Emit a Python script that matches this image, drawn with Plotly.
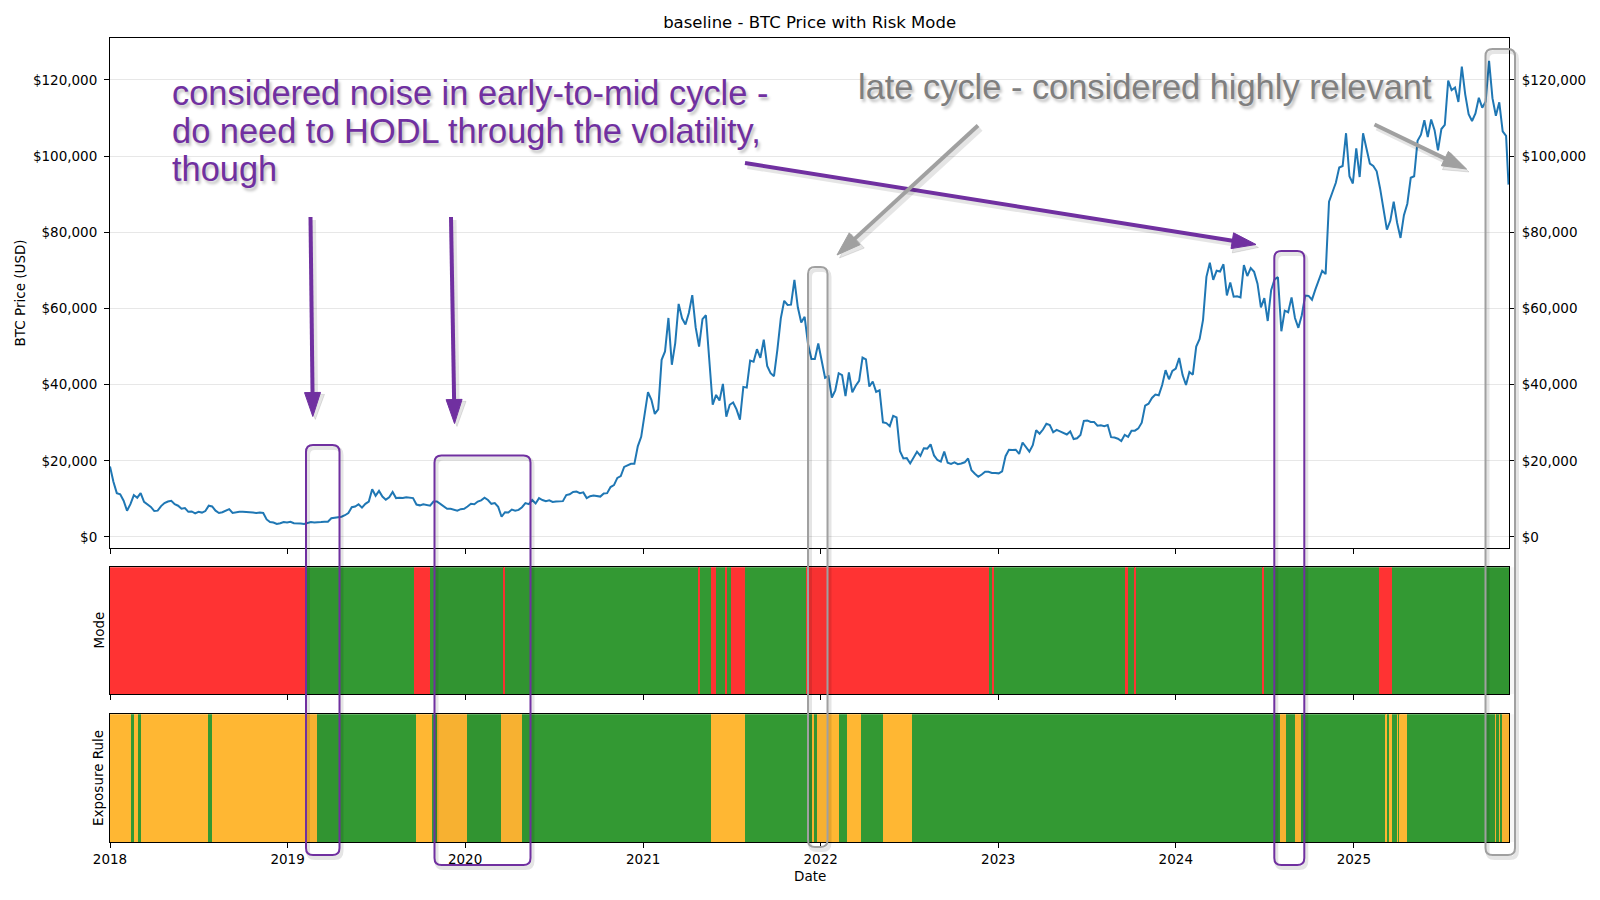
import math
import pandas as pd
import plotly.graph_objects as go

# weekly BTC closes in $k (Mondays from 2018-01-01)
btc_2018 = [18.5, 14.5, 11.5, 11.2, 9.5, 6.9, 8.6, 11.0, 10.3, 11.5, 9.2, 8.6, 7.9, 6.8, 6.9, 8.1, 8.9, 9.3,
            9.5, 8.6, 8.2, 7.4, 7.6, 6.6, 6.7, 6.2, 6.6, 6.4, 6.8, 8.2, 8.0, 6.9, 6.3, 6.5, 7.0, 7.3, 6.3, 6.5,
            6.6, 6.6, 6.6, 6.5, 6.4, 6.3, 6.4, 6.3, 4.6, 3.9, 3.8, 3.4, 3.6, 3.9, 3.8]
btc_2019 = [4.0, 3.6, 3.6, 3.5, 3.4, 3.6, 3.9, 3.8, 3.8, 3.9, 4.0, 4.0, 4.9, 5.1, 5.2, 5.3, 5.7, 6.3, 7.8,
            8.0, 8.6, 7.7, 8.7, 9.3, 12.5, 10.8, 12.1, 10.6, 9.8, 10.4, 11.8, 10.2, 10.3, 10.2, 10.4, 10.3,
            10.2, 8.5, 8.3, 8.6, 8.3, 8.2, 9.3, 9.3, 8.7, 8.1, 7.4, 7.4, 7.2, 6.9, 7.3, 7.4]
btc_2020 = [8.0, 8.7, 8.6, 9.3, 9.6, 10.3, 9.7, 8.7, 8.9, 7.9, 5.3, 6.5, 6.4, 7.2, 6.9, 7.1, 7.8, 8.9, 8.6,
            9.7, 8.8, 10.2, 9.7, 9.4, 9.6, 9.2, 9.3, 9.3, 9.4, 11.0, 11.2, 11.8, 11.9, 11.5, 11.7, 10.2, 10.7,
            10.9, 10.7, 10.6, 11.4, 11.5, 13.1, 13.6, 15.5, 16.0, 18.4, 18.8, 19.2, 19.2, 23.8, 26.3]
btc_2021 = [32.0, 38.0, 36.0, 32.3, 33.5, 46.5, 48.7, 57.5, 45.2, 50.9, 61.2, 57.4, 55.8, 58.8, 63.5, 55.0,
            50.0, 57.2, 58.2, 46.4, 34.7, 37.3, 35.8, 40.2, 31.6, 34.7, 35.3, 33.5, 30.8, 39.4, 39.2, 46.3,
            46.0, 49.3, 47.0, 51.8, 44.9, 43.0, 42.2, 49.2, 57.4, 62.0, 60.9, 61.0, 67.5, 60.3, 56.3, 57.8,
            50.6, 46.7, 46.7, 50.8]
btc_2022 = [46.4, 41.8, 42.2, 36.6, 38.5, 43.0, 42.5, 37.0, 43.2, 38.0, 39.7, 41.0, 47.1, 46.6, 39.5, 40.8,
            38.1, 38.5, 30.1, 29.9, 29.1, 31.8, 31.4, 22.5, 20.6, 20.7, 19.3, 20.8, 22.4, 21.3, 23.3, 23.2,
            24.3, 21.4, 20.2, 19.8, 22.4, 19.5, 19.2, 19.6, 19.1, 19.3, 19.6, 20.6, 17.5, 16.6, 15.8, 16.4,
            17.1, 17.1, 16.8, 16.8]
btc_2023 = [16.7, 17.2, 21.2, 22.9, 22.8, 22.9, 21.8, 24.8, 23.5, 22.4, 24.1, 28.0, 27.1, 28.2, 29.7, 29.4,
            27.5, 28.1, 27.7, 27.2, 26.9, 27.7, 25.7, 25.9, 26.8, 30.5, 30.6, 30.2, 30.2, 29.2, 29.3, 29.1,
            29.4, 26.2, 26.1, 25.8, 25.2, 26.8, 26.3, 27.9, 27.9, 28.5, 30.0, 34.5, 35.0, 36.5, 37.4, 37.2,
            39.9, 43.8, 41.4, 43.6]
btc_2024 = [44.2, 47.0, 42.5, 39.9, 43.3, 42.6, 50.0, 52.0, 57.0, 68.3, 72.0, 67.5, 69.9, 69.7, 71.6, 63.4,
            66.8, 63.1, 63.2, 62.9, 71.4, 68.5, 70.6, 69.6, 66.5, 60.3, 62.7, 56.7, 64.8, 67.6, 68.2, 54.0,
            59.4, 59.0, 62.9, 57.5, 54.9, 58.2, 63.4, 63.3, 62.3, 65.0, 67.3, 69.9, 69.0, 88.0, 90.5, 93.0,
            97.0, 97.4, 106.0, 94.7, 92.8]
btc_2025 = [102.0, 94.5, 106.0, 102.0, 98.0, 97.4, 96.0, 91.5, 86.0, 80.7, 83.0, 88.0, 82.5, 78.5, 84.5,
            87.5, 94.3, 94.7, 104.0, 105.6, 109.4, 105.0, 109.6, 106.8, 101.5, 107.1, 108.2, 119.8, 117.3,
            118.0, 114.2, 123.5, 116.2, 111.0, 109.2, 111.2, 115.3, 112.7, 114.3, 125.0, 115.2, 110.6, 114.1,
            106.5, 105.3]
last_date = "2025-11-15"
last_price = 92.5

# regime bands: change dates and the state of each span
mode_edges = ["2018-01-01", "2019-02-05", "2019-09-18", "2019-10-20", "2020-03-20", "2020-03-22",
              "2021-04-25", "2021-04-27", "2021-05-20", "2021-05-31", "2021-06-19", "2021-06-22",
              "2021-07-01", "2021-07-30", "2021-12-01", "2022-12-13", "2022-12-20", "2022-12-24",
              "2023-09-18", "2023-09-25", "2023-10-09", "2023-10-12", "2024-06-28", "2024-07-01",
              "2025-02-21", "2025-03-21", "2025-11-16"]
mode_states = ["R", "G", "R", "G", "R", "G", "R", "G", "R", "G", "R", "G", "R", "G", "R", "G", "R",
               "G", "R", "G", "R", "G", "R", "G", "R", "G"]

expo_edges = ["2018-01-01", "2018-02-14", "2018-02-20", "2018-02-28", "2018-03-05", "2018-07-22",
              "2018-07-30", "2019-03-03", "2019-09-23", "2019-10-25", "2019-11-05", "2020-01-04",
              "2020-03-14", "2020-04-27", "2021-05-20", "2021-07-30", "2021-12-15", "2021-12-18",
              "2021-12-25", "2022-02-08", "2022-02-24", "2022-03-25", "2022-05-09", "2022-07-07",
              "2024-08-02", "2024-08-15", "2024-09-02", "2024-09-15", "2025-03-08", "2025-03-10",
              "2025-03-15", "2025-03-21", "2025-04-01", "2025-04-03", "2025-04-04", "2025-04-21",
              "2025-10-19", "2025-10-21", "2025-10-28", "2025-10-30", "2025-11-01", "2025-11-16"]
expo_states = ["O", "G"] * 20 + ["O"]

year_ticks = ["2018", "2019", "2020", "2021", "2022", "2023", "2024", "2025"]
price_ticks = [0, 20000, 40000, 60000, 80000, 100000, 120000]

band_colors = {"R": "#ff3333", "G": "#339933", "O": "#ffb733"}
PURPLE = "#7030a0"
GREY = "#a0a0a0"

# the page puts the figure 8px in from the window corner; positions below are window pixels
OFF = 8
W, H = 1600 - OFF, 900 - OFF
PL, PR, PT, PB = 110, 1509, 38, 842          # plot area in window pixels
ML, MR, MT, MB = PL - OFF, W - (PR - OFF), PT - OFF, H - (PB - OFF)
PW, PH = PR - PL, PB - PT


def px(x):
    return (x - PL) / PW


def py(y):
    return (PB - y) / PH


weekly = btc_2018 + btc_2019 + btc_2020 + btc_2021 + btc_2022 + btc_2023 + btc_2024 + btc_2025
dates = list(pd.date_range("2018-01-01", periods=len(weekly), freq="7D")) + [pd.Timestamp(last_date)]
prices = [v * 1000 for v in weekly + [last_price]]


def band(edges, states, xa, ya):
    e = pd.to_datetime(edges)
    starts, ends = e[:-1], e[1:]
    widths = [(b - a) / pd.Timedelta(milliseconds=1) for a, b in zip(starts, ends)]
    mids = [a + (b - a) / 2 for a, b in zip(starts, ends)]
    return go.Bar(x=mids, y=[1] * len(mids), base=0, width=widths, xaxis=xa, yaxis=ya,
                  marker=dict(color=[band_colors[s] for s in states], line=dict(width=0)),
                  hoverinfo="skip", showlegend=False)


fig = go.Figure()
fig.add_trace(go.Scatter(x=dates, y=prices, mode="lines", line=dict(color="#1f77b4", width=2),
                         xaxis="x", yaxis="y", showlegend=False))
fig.add_trace(go.Scatter(x=dates, y=prices, mode="lines", opacity=0, xaxis="x", yaxis="y4",
                         showlegend=False, hoverinfo="skip"))
fig.add_trace(band(mode_edges, mode_states, "x2", "y2"))
fig.add_trace(band(expo_edges, expo_states, "x3", "y3"))

xr = ["2018-01-01", "2025-11-16"]
tick_font = dict(family="DejaVu Sans", size=13.5, color="black")
xcommon = dict(type="date", range=xr, tickvals=[y + "-01-01" for y in year_ticks], ticktext=year_ticks,
               ticks="outside", ticklen=5, tickcolor="black", showline=True, linecolor="black",
               linewidth=1, mirror=True, showgrid=False, zeroline=False, tickfont=tick_font)
ycommon = dict(showline=True, linecolor="black", linewidth=1, mirror=True, showgrid=False,
               zeroline=False, showticklabels=False, ticks="", range=[0, 1], fixedrange=True)
yprice = dict(range=[-2900, 131000], tickvals=price_ticks, ticktext=["$" + format(v, ",") for v in price_ticks],
              ticks="outside", ticklen=5, tickcolor="black", tickfont=tick_font, zeroline=False,
              ticklabelstandoff=4)

fig.update_layout(
    width=W, height=H, margin=dict(l=ML, r=MR, t=MT, b=MB),
    paper_bgcolor="white", plot_bgcolor="white", showlegend=False, bargap=0,
    font=dict(family="DejaVu Sans", color="black"),
    title=dict(text="baseline - BTC Price with Risk Mode", x=px(809.6), xref="paper", xanchor="center",
               yref="container", y=1 - (22.4 - OFF) / H, yanchor="middle", font=dict(size=16.5)),
    xaxis=dict(xcommon, domain=[0, 1], anchor="y", showticklabels=False),
    yaxis=dict(yprice, domain=[py(548), 1], anchor="x", showline=True, linecolor="black", linewidth=1,
               mirror=True, showgrid=True, gridcolor="#e7e7e7", gridwidth=1),
    yaxis4=dict(yprice, overlaying="y", side="right", anchor="x", matches="y", showgrid=False,
                showline=False),
    xaxis2=dict(xcommon, domain=[0, 1], anchor="y2", showticklabels=False),
    yaxis2=dict(ycommon, domain=[py(694), py(567.3)], anchor="x2"),
    xaxis3=dict(xcommon, domain=[0, 1], anchor="y3"),
    yaxis3=dict(ycommon, domain=[0, py(714.3)], anchor="x3"),
)

annotations = [
    dict(text="BTC Price (USD)", x=px(20.4), y=py(293), textangle=-90, font=dict(size=13.5)),
    dict(text="Mode", x=px(98), y=py(630.5), textangle=-90, font=dict(size=13.5)),
    dict(text="Exposure Rule", x=px(98), y=py(778), textangle=-90, font=dict(size=13.5)),
    dict(text="Date", x=px(809.6), y=py(876), font=dict(size=13.5)),
]
note_font = dict(family="Liberation Sans", size=34.4, shadow="2px 3px 3px rgba(0,0,0,0.25)")
for text, yc in [("considered noise in early-to-mid cycle -", 93),
                 ("do need to HODL through the volatility,", 131),
                 ("though", 169)]:
    annotations.append(dict(text=text, x=px(170), y=py(yc), xanchor="left", font=dict(note_font, color=PURPLE)))
annotations.append(dict(text="late cycle - considered highly relevant", x=px(856), y=py(87), xanchor="left",
                        font=dict(note_font, color="#7f7f7f")))
for a in annotations:
    a.setdefault("xanchor", "center")
    a.update(xref="paper", yref="paper", showarrow=False, yanchor="middle")
fig.update_layout(annotations=annotations)


def pt(x, y):
    return f"{px(x):.5f},{py(y):.5f}"


def rounded_box(x0, y0, x1, y1, r=7):
    return (f"M {pt(x0 + r, y0)} L {pt(x1 - r, y0)} Q {pt(x1, y0)} {pt(x1, y0 + r)} "
            f"L {pt(x1, y1 - r)} Q {pt(x1, y1)} {pt(x1 - r, y1)} L {pt(x0 + r, y1)} "
            f"Q {pt(x0, y1)} {pt(x0, y1 - r)} L {pt(x0, y0 + r)} Q {pt(x0, y0)} {pt(x0 + r, y0)} Z")


def arrow_shapes(x0, y0, x1, y1, color, width=4, hl=24, hw=16):
    d = math.hypot(x1 - x0, y1 - y0)
    ux, uy = (x1 - x0) / d, (y1 - y0) / d
    bx, by = x1 - ux * hl, y1 - uy * hl
    nx, ny = -uy, ux
    shaft = dict(type="line", xref="paper", yref="paper", x0=px(x0), y0=py(y0),
                 x1=px(bx + ux * 2), y1=py(by + uy * 2), line=dict(color=color, width=width), layer="above")
    head = dict(type="path", xref="paper", yref="paper", layer="above", fillcolor=color,
                line=dict(color=color, width=1),
                path=f"M {pt(x1, y1)} L {pt(bx + nx * hw / 2, by + ny * hw / 2)} "
                     f"L {pt(bx - nx * hw / 2, by - ny * hw / 2)} Z")
    return [shaft, head]


boxes = [(306, 445, 339.5, 855, PURPLE), (434.5, 455.5, 530.5, 865, PURPLE),
         (808, 267, 827.5, 847, GREY), (1274.3, 251, 1304.3, 865, PURPLE),
         (1485.5, 49, 1515, 855, GREY)]
arrows = [(310.5, 217, 312.8, 416.5, PURPLE), (451, 217, 454.5, 423.5, PURPLE),
          (745, 163, 1256, 244.5, PURPLE), (978, 125.5, 837, 255, GREY),
          (1374.5, 124.5, 1466.5, 169, GREY)]

shapes = []
shadow = "rgba(0,0,0,0.10)"
for x0, y0, x1, y1, c in boxes:
    # faint shadow tint where the box crosses the regime bands
    for top, bot in [(567.3, 694), (714.3, 842)]:
        shapes.append(dict(type="rect", xref="paper", yref="paper", layer="above", line=dict(width=0),
                           x0=px(x0 + 1), x1=px(x1 - 1), y0=py(bot), y1=py(top),
                           fillcolor="rgba(0,0,0,0.03)"))
    shapes.append(dict(type="path", xref="paper", yref="paper", layer="above",
                       path=rounded_box(x0 + 2, y0 + 3, x1 + 2, y1 + 3), line=dict(color=shadow, width=4)))
    shapes.append(dict(type="path", xref="paper", yref="paper", layer="above",
                       path=rounded_box(x0, y0, x1, y1), line=dict(color=c, width=2)))
for x0, y0, x1, y1, c in arrows:
    for s in arrow_shapes(x0 + 2.5, y0 + 3, x1 + 2.5, y1 + 3, shadow, width=6, hl=25, hw=19):
        shapes.append(s)
    shapes.extend(arrow_shapes(x0, y0, x1, y1, c))
fig.update_layout(shapes=shapes)

fig.write_html("out.html")
